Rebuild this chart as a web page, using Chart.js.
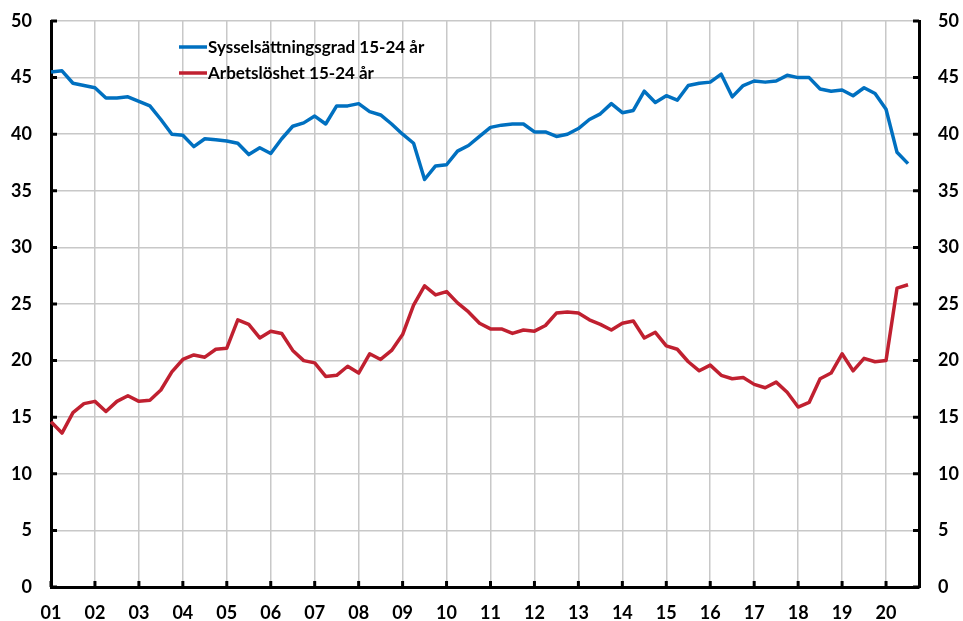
<!DOCTYPE html>
<html>
<head>
<meta charset="utf-8">
<script src="https://cdn.jsdelivr.net/npm/chart.js@4"></script>
<style>
  html, body { margin: 0; padding: 0; background: #fff; }
  #wrap { width: 963px; height: 621px; }
</style>
</head>
<body>
<div id="wrap"><canvas id="chart"></canvas></div>
<script>
// år på x-axeln (kvartal, etikett vid första kvartalet)
const years = ['01', '02', '03', '04', '05', '06', '07', '08', '09', '10',
  '11', '12', '13', '14', '15', '16', '17', '18', '19', '20'];
const seriesNames = ['Sysselsättningsgrad 15-24 år', 'Arbetslöshet 15-24 år'];

const sysselsattning = [45.5, 45.6, 44.5, 44.3, 44.1, 43.2, 43.2, 43.3, 42.9, 42.5,
  41.3, 40.0, 39.9, 38.9, 39.6, 39.5, 39.4, 39.2, 38.2, 38.8,
  38.3, 39.6, 40.7, 41.0, 41.6, 40.9, 42.5, 42.5, 42.7, 42.0,
  41.7, 40.9, 40.0, 39.2, 36.0, 37.2, 37.3, 38.5, 39.0, 39.8,
  40.6, 40.8, 40.9, 40.9, 40.2, 40.2, 39.8, 40.0, 40.5, 41.3,
  41.8, 42.7, 41.9, 42.1, 43.8, 42.8, 43.4, 43.0, 44.3, 44.5,
  44.6, 45.3, 43.3, 44.3, 44.7, 44.6, 44.7, 45.2, 45.0, 45.0,
  44.0, 43.8, 43.9, 43.4, 44.1, 43.6, 42.2, 38.4, 37.4];

const arbetsloshet = [14.6, 13.6, 15.4, 16.2, 16.4, 15.5, 16.4, 16.9, 16.4, 16.5,
  17.4, 19.0, 20.1, 20.5, 20.3, 21.0, 21.1, 23.6, 23.2, 22.0,
  22.6, 22.4, 20.9, 20.0, 19.8, 18.6, 18.7, 19.5, 18.9, 20.6,
  20.1, 20.9, 22.3, 24.9, 26.6, 25.8, 26.1, 25.1, 24.3, 23.3,
  22.8, 22.8, 22.4, 22.7, 22.6, 23.1, 24.2, 24.3, 24.2, 23.6,
  23.2, 22.7, 23.3, 23.5, 22.0, 22.5, 21.3, 21.0, 19.9, 19.1,
  19.6, 18.7, 18.4, 18.5, 17.9, 17.6, 18.1, 17.2, 15.9, 16.3,
  18.4, 18.9, 20.6, 19.1, 20.2, 19.9, 20.0, 26.4, 26.7];

const BLUE = 'rgb(0, 112, 192)';
const RED = 'rgb(192, 32, 48)';
const GRID = 'rgb(200, 200, 200)';

// 80 kvartal, etikett bara på första kvartalet varje år
let labels = [];
years.forEach(y => { labels.push(y, '', '', ''); });

// korta tickmarkeringar innanför axlarna
const innerTicks = {
  id: 'innerTicks',
  afterDraw(chart) {
    const { ctx, chartArea: { left, right, bottom }, scales: { x, y } } = chart;
    ctx.save();
    ctx.strokeStyle = '#000';
    ctx.lineWidth = 3;
    for (let v = 0; v <= 50; v += 5) {
      const py = y.getPixelForValue(v);
      ctx.beginPath();
      ctx.moveTo(left, py);
      ctx.lineTo(left + 6, py);
      ctx.moveTo(right - 6, py);
      ctx.lineTo(right, py);
      ctx.stroke();
    }
    labels.forEach((l, i) => {
      if (!l) return;
      const px = x.getPixelForValue(i);
      ctx.beginPath();
      ctx.moveTo(px, bottom);
      ctx.lineTo(px, bottom - 6);
      ctx.stroke();
    });
    ctx.restore();
  }
};

// förklaring inne i diagrammet
const legendBox = {
  id: 'legendBox',
  afterDraw(chart) {
    const ctx = chart.ctx;
    const colors = [BLUE, RED];
    ctx.save();
    ctx.font = 'bold 17px Lato';
    ctx.textBaseline = 'middle';
    seriesNames.forEach((name, i) => {
      const yy = 47 + i * 26;
      ctx.strokeStyle = colors[i];
      ctx.lineWidth = 3.5;
      ctx.beginPath();
      ctx.moveTo(179, yy);
      ctx.lineTo(207, yy);
      ctx.stroke();
      ctx.fillStyle = '#000';
      ctx.fillText(name, 208, yy + 1);
    });
    ctx.restore();
  }
};

const tickFont = { family: 'Lato', size: 18, weight: 'bold' };

// y-axlarnas bredd fast, ingen extra luft ovanför
const fitY = w => s => {
  s.width = w;
  s.paddingTop = 0;
  s.paddingBottom = 0;
};

const config = {
  type: 'line',
  data: {
    labels: labels,
    datasets: [
      {
        label: seriesNames[0],
        data: sysselsattning,
        borderColor: BLUE,
        backgroundColor: BLUE,
        borderWidth: 3.5,
        pointRadius: 0,
        tension: 0,
        borderJoinStyle: 'round',
        yAxisID: 'y'
      },
      {
        label: seriesNames[1],
        data: arbetsloshet,
        borderColor: RED,
        backgroundColor: RED,
        borderWidth: 3.5,
        pointRadius: 0,
        tension: 0,
        borderJoinStyle: 'round',
        yAxisID: 'y'
      }
    ]
  },
  options: {
    responsive: true,
    maintainAspectRatio: false,
    animation: false,
    layout: { padding: { top: 21, left: 0, right: 0, bottom: 0 } },
    plugins: {
      legend: { display: false },
      tooltip: { enabled: false }
    },
    scales: {
      x: {
        offset: false,
        afterFit: s => { s.height = 34; },
        grid: {
          drawTicks: false,
          color: c => (c.tick && c.tick.label) ? GRID : 'rgba(0,0,0,0)',
          lineWidth: 1.5
        },
        border: { color: '#000', width: 3 },
        ticks: {
          autoSkip: false,
          maxRotation: 0,
          padding: 15,
          color: '#000',
          font: tickFont
        }
      },
      y: {
        position: 'left',
        min: 0,
        max: 50,
        afterFit: fitY(51),
        grid: { drawTicks: false, color: GRID, lineWidth: 1.5 },
        border: { color: '#000', width: 3 },
        ticks: { stepSize: 5, padding: 19, color: '#000', font: tickFont }
      },
      y1: {
        position: 'right',
        min: 0,
        max: 50,
        afterFit: fitY(44),
        grid: { display: false, drawTicks: false },
        border: { color: '#000', width: 3 },
        ticks: { stepSize: 5, padding: 19, color: '#000', font: tickFont }
      }
    }
  },
  plugins: [innerTicks, legendBox]
};

const myChart = new Chart(document.getElementById('chart'), config);
</script>
</body>
</html>
